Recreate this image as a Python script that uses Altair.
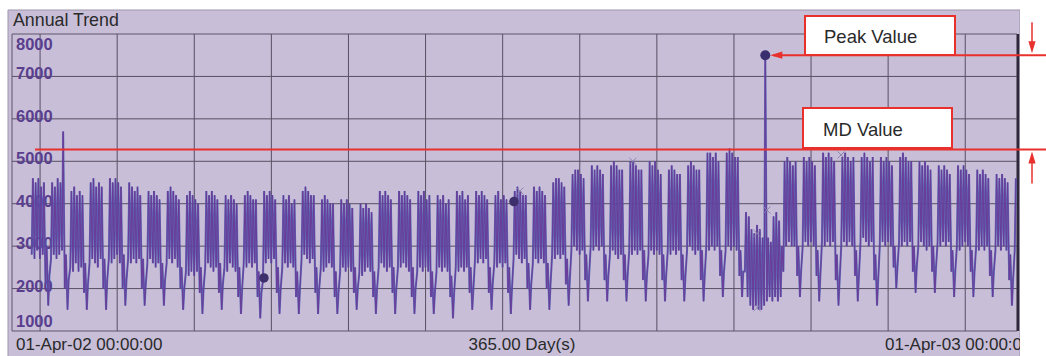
import altair as alt
import pandas as pd

# Half-hourly load log condensed to one (night low, day high) pair per day,
# in hundreds of kW.  One row per week, Monday..Sunday.
# Logging starts on Monday 08-Apr-02 (day 7 after 01-Apr-02).
weeks_apr_jul = [
    [28, 46, 27, 45, 29, 46, 27, 44, 28, 45, 21, 30, 16, 23],
    [27, 45, 28, 44, 27, 46, 28, 45, 29, 57, 20, 28, 15, 22],
    [25, 43, 24, 44, 26, 42, 24, 43, 25, 42, 19, 26, 15, 21],
    [26, 45, 27, 46, 26, 44, 25, 45, 27, 44, 20, 27, 15, 22],
    [27, 46, 26, 45, 27, 46, 28, 45, 26, 44, 20, 28, 16, 22],
    [27, 45, 26, 44, 27, 43, 26, 44, 27, 42, 20, 27, 16, 21],
    [26, 43, 27, 42, 26, 43, 25, 42, 26, 41, 20, 26, 16, 22],
    [26, 43, 27, 44, 26, 43, 27, 42, 25, 41, 20, 25, 15, 20],
    [24, 42, 23, 43, 24, 42, 23, 41, 24, 40, 19, 25, 14, 20],
    [25, 43, 26, 42, 25, 43, 24, 42, 25, 41, 19, 26, 15, 21],
    [25, 42, 24, 41, 26, 42, 25, 41, 24, 40, 18, 25, 14, 20],
    [26, 42, 25, 43, 26, 42, 25, 41, 26, 41, 18, 24, 13, 19],
    [22, 43, 26, 42, 27, 43, 26, 42, 27, 41, 19, 25, 14, 20],
]
weeks_jul_oct = [
    [25, 42, 26, 41, 25, 42, 26, 40, 25, 41, 18, 24, 14, 20],
    [27, 43, 28, 44, 27, 43, 26, 42, 27, 42, 19, 25, 14, 20],
    [25, 41, 24, 42, 25, 41, 26, 40, 25, 40, 18, 24, 14, 19],
    [24, 41, 25, 40, 24, 41, 25, 40, 24, 39, 19, 25, 15, 20],
    [24, 40, 23, 39, 24, 40, 25, 39, 24, 38, 18, 24, 14, 20],
    [25, 43, 26, 42, 25, 43, 24, 42, 25, 41, 19, 25, 14, 20],
    [25, 43, 25, 42, 26, 43, 25, 42, 24, 41, 18, 25, 14, 20],
    [24, 43, 25, 42, 24, 43, 25, 41, 24, 42, 18, 24, 14, 19],
    [24, 42, 25, 41, 24, 42, 25, 40, 24, 41, 18, 23, 13, 19],
    [25, 43, 24, 42, 25, 43, 24, 41, 25, 42, 19, 25, 15, 20],
    [27, 43, 26, 42, 27, 43, 26, 42, 27, 41, 19, 25, 15, 21],
    [26, 42, 25, 43, 26, 41, 25, 42, 26, 41, 19, 25, 14, 20],
    [27, 43, 28, 44, 27, 43, 26, 42, 27, 42, 20, 26, 15, 21],
]
weeks_oct_jan = [
    [26, 44, 27, 43, 26, 44, 27, 43, 26, 42, 20, 26, 15, 21],
    [28, 45, 27, 46, 28, 46, 27, 45, 28, 44, 21, 27, 16, 22],
    [29, 47, 30, 48, 29, 48, 28, 47, 29, 46, 22, 28, 17, 23],
    [30, 49, 29, 48, 30, 49, 29, 48, 30, 47, 22, 28, 17, 23],
    [28, 49, 29, 50, 28, 49, 27, 48, 28, 48, 22, 28, 17, 23],
    [29, 50, 28, 50, 29, 49, 28, 48, 29, 48, 22, 29, 17, 23],
    [28, 50, 29, 49, 28, 50, 29, 48, 28, 47, 22, 28, 17, 23],
    [29, 48, 28, 49, 29, 48, 28, 47, 29, 47, 22, 28, 17, 23],
    [29, 49, 30, 50, 29, 49, 28, 48, 29, 48, 22, 29, 17, 23],
    [30, 52, 29, 52, 30, 51, 29, 52, 30, 50, 23, 29, 18, 24],
    [29, 52, 30, 53, 29, 52, 30, 51, 29, 51, 23, 29, 18, 24],
    [24, 38, 18, 37, 16, 34, 15, 33, 16, 35, 15, 34, 15, 32],
    [16, 75, 17, 32, 18, 31, 17, 37, 18, 38, 17, 36, 18, 30],
]
weeks_jan_apr = [
    [24, 50, 30, 51, 31, 50, 30, 49, 30, 50, 23, 30, 18, 24],
    [30, 51, 31, 50, 30, 51, 31, 50, 30, 49, 23, 29, 17, 23],
    [31, 52, 30, 51, 31, 52, 30, 51, 31, 50, 22, 28, 16, 22],
    [30, 51, 31, 52, 30, 51, 31, 50, 30, 51, 23, 29, 17, 23],
    [31, 51, 32, 52, 31, 51, 30, 50, 31, 51, 22, 28, 16, 22],
    [30, 51, 31, 50, 30, 51, 31, 50, 30, 49, 25, 30, 20, 25],
    [31, 51, 30, 52, 31, 51, 30, 50, 31, 50, 24, 30, 19, 25],
    [30, 50, 31, 49, 30, 50, 29, 49, 30, 48, 24, 30, 19, 25],
    [31, 49, 30, 48, 31, 49, 30, 48, 31, 47, 24, 29, 18, 24],
    [30, 49, 29, 48, 30, 49, 31, 48, 30, 47, 24, 29, 18, 24],
    [30, 48, 29, 47, 30, 48, 29, 47, 30, 46, 23, 29, 18, 24],
    [29, 47, 30, 46, 29, 47, 30, 46, 29, 45, 22, 28, 16, 22],
    [29, 46],
]
FIRST_DAY = 7
LOW_HOUR, HIGH_HOUR = 4, 14

md_value = 5280                      # maximum demand setting, kW

# flagged readings
dot_days = [91.5, 182.3]
dot_kw = [2250, 4050]
cross_days = [184.5, 225.5, 270.6, 270.6, 274.2, 301.1]
cross_kw = [4300, 5000, 3300, 1550, 3850, 5150]

# axes
grid_days = [10.2, 38.2, 66.2, 94.2, 122.2, 150.2, 178.2, 206.2,
             234.2, 262.2, 290.2, 318.2, 346.2]
grid_kw = [2000, 3000, 4000, 5000, 6000, 7000]
tick_mid = [2000, 3000, 4000, 5000, 6000, 7000]
tick_top = [8000]
tick_bottom = [1000]

# ---------------------------------------------------------------------------
flat = [v for block in (weeks_apr_jul, weeks_jul_oct, weeks_oct_jan, weeks_jan_apr)
        for row in block for v in row]
records = []
for i in range(0, len(flat), 2):
    d = FIRST_DAY + i // 2
    records.append({"day": d + LOW_HOUR / 24, "kw": flat[i] * 100})
    records.append({"day": d + HIGH_HOUR / 24, "kw": flat[i + 1] * 100})
load = pd.DataFrame(records)
peak = load.loc[[load["kw"].idxmax()]].reset_index(drop=True)

W, H = 1005, 297
FONT = "Liberation Sans"
BG = "#c8bed8"
GRID = "#594f63"
RED = "#e8302d"
LINE_UNDER = "#4a5ab2"
LINE_OVER = "#6a3c98"
LABEL = "#5a3e8e"
INK = "#2a2a2a"

xs = alt.Scale(domain=[0, 365], nice=False, zero=False)
ys = alt.Scale(domain=[1000, 8000], nice=False, zero=False)


def X(f):
    return alt.X(f, type="quantitative", scale=xs, axis=None)


def Y(f):
    return alt.Y(f, type="quantitative", scale=ys, axis=None)


one = alt.Chart(pd.DataFrame({"k": [0]}))

panel = one.mark_rect(fill=BG, stroke="#9d93aa", strokeWidth=1).encode(
    x=alt.value(-4), x2=alt.value(1008), y=alt.value(-24), y2=alt.value(340))

vgrid = alt.Chart(pd.DataFrame({"day": grid_days})).mark_rule(
    color=GRID, strokeWidth=1).encode(x=X("day"), y=alt.value(0), y2=alt.value(H))
hgrid = alt.Chart(pd.DataFrame({"kw": grid_kw})).mark_rule(
    color=GRID, strokeWidth=1).encode(y=Y("kw"), x=alt.value(0), x2=alt.value(W))
frame = one.mark_rect(fillOpacity=0, stroke="#5e5468", strokeWidth=1).encode(
    x=alt.value(0), x2=alt.value(W), y=alt.value(0), y2=alt.value(H))
right_edge = one.mark_rule(color="#2e2838", strokeWidth=2.5).encode(
    x=alt.value(W + 1), y=alt.value(0), y2=alt.value(H))


def tick_layer(values, dy):
    return alt.Chart(pd.DataFrame({"kw": values})).mark_text(
        align="left", baseline="middle", dy=dy, font=FONT, fontSize=16.5,
        fontWeight="bold", color=LABEL).encode(
        x=alt.value(4), y=Y("kw"), text=alt.Text("kw:Q", format="d"))


ticks = tick_layer(tick_mid, -2) + tick_layer(tick_top, 11) + tick_layer(tick_bottom, -9)

# the logger draws the trace twice, a blue pen under a narrower purple one
trace_under = alt.Chart(load).mark_line(color=LINE_UNDER, strokeWidth=2,
                                        opacity=0.85).encode(x=X("day"), y=Y("kw"))
trace_over = alt.Chart(load).mark_line(color=LINE_OVER, strokeWidth=1).encode(
    x=X("day"), y=Y("kw"))

crosses = alt.Chart(pd.DataFrame({"day": cross_days, "kw": cross_kw})).mark_point(
    shape="M-1,-1L1,1M-1,1L1,-1", size=50, filled=False, stroke="#8a7fae",
    strokeWidth=1, opacity=0.9).encode(x=X("day"), y=Y("kw"))
dots = alt.Chart(pd.DataFrame({"day": dot_days, "kw": dot_kw})).mark_circle(
    size=90, color="#3d2f6c", opacity=1).encode(x=X("day"), y=Y("kw"))
peak_dot = alt.Chart(peak).mark_circle(size=100, color="#3a2f6e", opacity=1).encode(
    x=X("day"), y=Y("kw"))


def caption(text, x, y, align="left", size=17):
    return one.mark_text(text=text, align=align, baseline="middle", font=FONT,
                         fontSize=size, color=INK).encode(
        x=alt.value(x), y=alt.value(y))


title = caption("Annual Trend", 1, -13, size=17.8)
start_lbl = caption("01-Apr-02 00:00:00", 4, 311)
span_lbl = caption("365.00 Day(s)", 510, 311, align="center")
end_lbl = caption("01-Apr-03 00:00:00", 873, 311)

cover = one.mark_rect(fill="white").encode(
    x=alt.value(1008), x2=alt.value(1040), y=alt.value(-40), y2=alt.value(330))

md_line = alt.Chart(pd.DataFrame({"kw": [md_value]})).mark_rule(
    color=RED, strokeWidth=2).encode(y=Y("kw"), x=alt.value(23), x2=alt.value(1034))
peak_line = alt.Chart(peak).mark_rule(color=RED, strokeWidth=2, xOffset=8).encode(
    x=X("day"), x2=alt.value(1034), y=Y("kw"))
peak_head = alt.Chart(peak).mark_point(
    shape="M-1,0L1,-0.6L1,0.6Z", size=144, filled=True, color=RED, opacity=1,
    xOffset=11).encode(x=X("day"), y=Y("kw"))

peak_box = one.mark_rect(fill="white", stroke=RED, strokeWidth=2).encode(
    x=alt.value(793), x2=alt.value(943), y=alt.value(-18), y2=alt.value(21))
md_box = one.mark_rect(fill="white", stroke=RED, strokeWidth=2).encode(
    x=alt.value(791), x2=alt.value(940), y=alt.value(74), y2=alt.value(114))
peak_txt = caption("Peak Value", 812, 3, size=18.5)
md_txt = caption("MD Value", 811, 96, size=18.5)

# offset arrows at the right edge marking the gap between the two levels
down_stem = alt.Chart(peak).mark_rule(color=RED, strokeWidth=1.5, yOffset=-33,
                                      y2Offset=-8).encode(
    x=alt.value(1020), y=Y("kw"), y2="kw:Q")
down_head = alt.Chart(peak).mark_point(
    shape="M0,1L-0.6,-1L0.6,-1Z", size=144, filled=True, color=RED, opacity=1,
    yOffset=-8).encode(x=alt.value(1020), y=Y("kw"))
md_df = pd.DataFrame({"kw": [md_value]})
up_stem = alt.Chart(md_df).mark_rule(color=RED, strokeWidth=1.5, yOffset=8,
                                     y2Offset=34).encode(
    x=alt.value(1020), y=Y("kw"), y2="kw:Q")
up_head = alt.Chart(md_df).mark_point(
    shape="M0,-1L-0.6,1L0.6,1Z", size=144, filled=True, color=RED, opacity=1,
    yOffset=8).encode(x=alt.value(1020), y=Y("kw"))

chart = alt.layer(
    panel, vgrid, hgrid, frame, right_edge, ticks, trace_under, trace_over,
    crosses, dots, peak_dot,
    title, start_lbl, span_lbl, end_lbl, cover,
    md_line, peak_line, peak_head, peak_box, md_box, peak_txt, md_txt,
    down_stem, down_head, up_stem, up_head,
).properties(
    width=W, height=H,
    padding={"left": 12, "top": 34, "right": 29, "bottom": 25},
    autosize=alt.AutoSizeParams(type="none"),
    background="white",
).configure_view(stroke=None)

chart.save("out.html", embed_options={"renderer": "svg", "actions": False})
